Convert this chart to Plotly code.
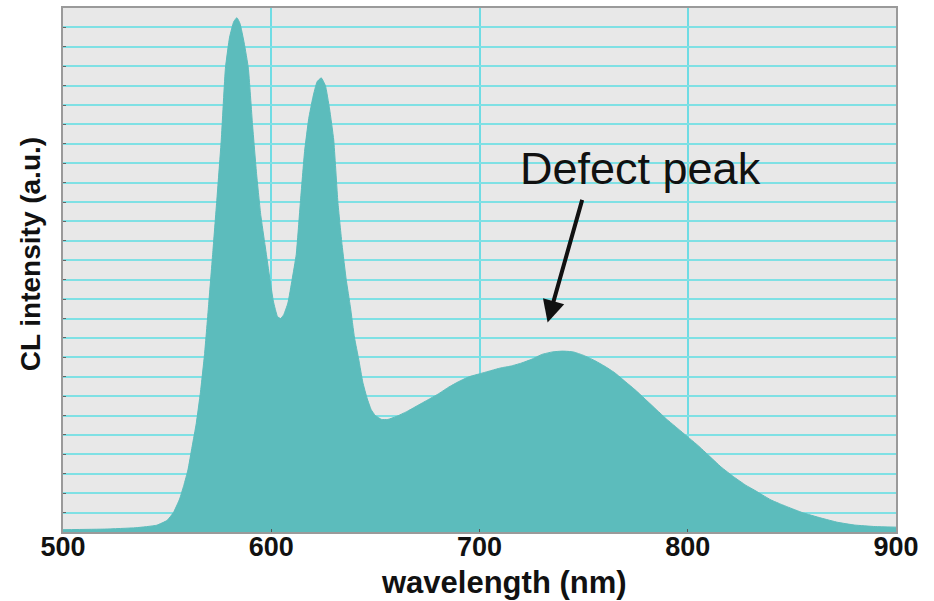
import plotly.graph_objects as go

# Spectrum
wavelength_nm = [500, 520, 535, 545, 550, 553, 556, 558, 560, 562, 564, 566, 568, 570,
                 572, 574, 576, 578, 580, 582, 583.5, 585, 587, 589, 591, 593, 595, 597,
                 599, 601, 603, 604.5, 606, 608, 610, 612, 614, 616, 618, 620, 622, 624,
                 626, 628, 630, 632, 634, 636, 638, 640, 642, 644, 646, 648, 650, 653,
                 656, 660, 665, 670, 675, 680, 685, 690, 695, 700, 705, 710, 715, 720,
                 725, 730, 735, 740, 745, 750, 755, 760, 765, 770, 775, 780, 785, 790,
                 795, 800, 805, 810, 816, 822, 828, 832, 836, 840, 845, 848, 855, 864,
                 872, 880, 890, 900]
intensity = [0.12, 0.15, 0.22, 0.35, 0.6, 1.0, 1.7, 2.4, 3.2, 4.4, 5.6, 7.2, 9.2, 11.8,
             14.5, 17.3, 20.2, 23.9, 25.5, 26.3, 26.5, 26.2, 25.2, 23.9, 21.0, 18.4, 16.3, 14.8,
             13.3, 11.9, 11.1, 11.0, 11.2, 11.8, 13.0, 14.3, 17.0, 19.6, 21.3, 22.4, 23.2, 23.4,
             23.0, 21.8, 20.2, 17.0, 14.8, 13.0, 11.6, 10.0, 8.9, 7.7, 6.9, 6.3, 6.0, 5.8,
             5.8, 5.95, 6.2, 6.5, 6.8, 7.1, 7.45, 7.75, 8.0, 8.15, 8.3, 8.45, 8.55, 8.7,
             8.9, 9.15, 9.28, 9.32, 9.28, 9.1, 8.85, 8.55, 8.2, 7.75, 7.3, 6.8, 6.3, 5.8,
             5.35, 4.9, 4.45, 3.95, 3.35, 2.85, 2.4, 2.16, 1.9, 1.65, 1.42, 1.29, 1.0, 0.72,
             0.5, 0.36, 0.28, 0.25]

x_ticks = [500, 600, 700, 800, 900]
x_tick_labels = ["500", "600", "700", "800", "900"]
x_title = "wavelength (nm)"
y_title = "CL intensity (a.u.)"
note_text = "Defect peak"
note_point = (732.7, 10.8)

TEAL = "#5cbcbc"
GRID = "#7fe0e4"
LABEL_FONT = dict(family="Liberation Sans", size=27, color="#111111", weight="bold")

fig = go.Figure()
fig.add_trace(go.Scatter(
    x=wavelength_nm, y=intensity, mode="lines", fill="tozeroy",
    line=dict(color=TEAL, width=1, shape="spline", smoothing=0.4),
    fillcolor=TEAL, hoverinfo="skip", showlegend=False,
))

fig.update_layout(
    width=934, height=601,
    margin=dict(l=63, r=38, t=6, b=69),
    paper_bgcolor="white", plot_bgcolor="#e8e8e8",
    showlegend=False,
    xaxis=dict(
        range=[500, 900], tickvals=x_ticks, ticktext=x_tick_labels,
        showgrid=True, gridcolor="#6fdce4", gridwidth=1.5,
        ticks="inside", ticklen=3, tickcolor="#555555",
        ticklabelstandoff=-10,
        tickfont=LABEL_FONT, zeroline=False,
        showline=True, linecolor="#9a9a9a", linewidth=2, mirror=True,
    ),
    yaxis=dict(
        range=[0, 27], dtick=1, showticklabels=False,
        showgrid=True, gridcolor=GRID, gridwidth=1.5,
        ticks="inside", ticklen=3, tickcolor="#666666",
        zeroline=False,
        showline=True, linecolor="#9a9a9a", linewidth=2, mirror=True,
    ),
    annotations=[
        dict(text=x_title, xref="paper", yref="paper", x=0.53, y=0, yshift=-50,
             xanchor="center", yanchor="middle", showarrow=False,
             font=dict(family="Liberation Sans", size=31, color="#111111", weight="bold")),
        dict(text=y_title, xref="paper", yref="paper", x=0, xshift=-33, y=0.53,
             xanchor="center", yanchor="middle", showarrow=False, textangle=-90,
             font=dict(family="Liberation Sans", size=28, color="#111111", weight="bold")),
        dict(text=note_text, xref="x", yref="y", x=note_point[0], y=note_point[1],
             xshift=93, yshift=154, xanchor="center", yanchor="middle", showarrow=False,
             font=dict(family="Liberation Sans", size=45, color="#111111")),
        dict(text="", xref="x", yref="y", x=note_point[0], y=note_point[1],
             ax=35, ay=-124, showarrow=True, arrowhead=2, arrowsize=1.1,
             arrowwidth=4, arrowcolor="#111111"),
    ],
)

fig.write_html("out.html")
